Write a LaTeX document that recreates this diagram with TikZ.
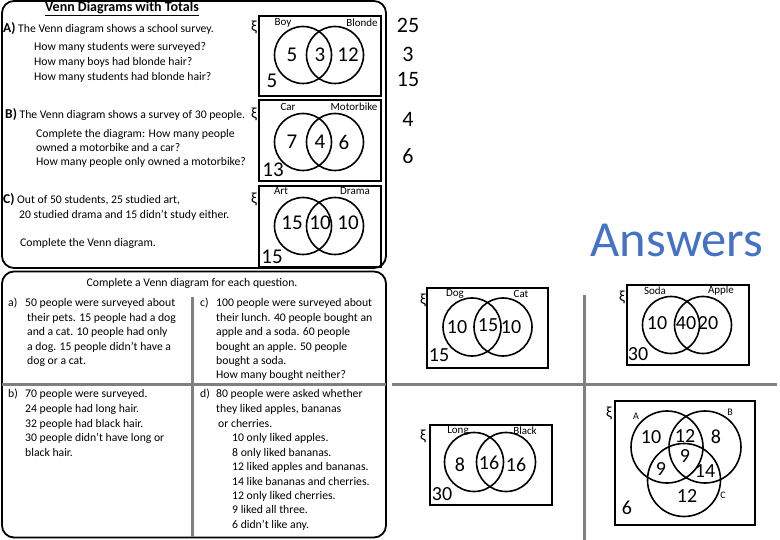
\documentclass[tikz,border=0pt]{standalone}
\usepackage{fontspec}
\setmainfont{Carlito}
\definecolor{ansblue}{RGB}{68,114,196}
\definecolor{sepgray}{RGB}{128,128,128}
\newcommand{\qlab}[1]{{\fontsize{13.5}{14}\selectfont\textbf{#1}}}
\begin{document}
\begin{tikzpicture}[x=1pt,y=-1pt,
  tx/.style={anchor=west,inner sep=0pt,font=\fontsize{11.7}{14}\selectfont,text height=8pt,text depth=2pt},
  frame/.style={draw,line width=1.8pt,rounded corners=12pt,inner sep=0pt},
  vbox/.style={draw,line width=1.8pt,inner sep=0pt},
  vc/.style={draw,circle,line width=1.6pt,inner sep=0pt,minimum size=#1},
  lab/.style={inner sep=0pt,font=\fontsize{11}{12}\selectfont},
  num/.style={inner sep=0pt,font=\fontsize{21}{24}\selectfont},
  anum/.style={inner sep=0pt,font=\fontsize{20}{22}\selectfont},
  rnum/.style={inner sep=0pt,font=\fontsize{22}{24}\selectfont},
  xi/.style={inner sep=0pt,font=\fontsize{15.5}{16}\selectfont},
  sep/.style={draw=sepgray,line width=3pt}]
\useasboundingbox (0,0) rectangle (780,540);

% ---------- top frame ----------
\node[frame,minimum width=384pt,minimum height=267pt] (topframe) at (194,134.5) {};
\node[inner sep=0pt,font=\fontsize{14}{16}\selectfont] (title) at (122,9) {\underline{\textbf{Venn Diagrams with Totals}}};
\node[tx] (qA) at (3,30) {\qlab{A)} The Venn diagram shows a school survey.};
\node[tx] (qA1) at (34,48) {How many students were surveyed?};
\node[tx] (qA2) at (34,63) {How many boys had blonde hair?};
\node[tx] (qA3) at (34,78) {How many students had blonde hair?};
\node[tx] (qB) at (5,116) {\qlab{B)} The Venn diagram shows a survey of 30 people.};
\node[tx] (qB1) at (36,135) {Complete the diagram: How many people};
\node[tx] (qB2) at (36,149) {owned a motorbike and a car?};
\node[tx] (qB3) at (36,163) {How many people only owned a motorbike?};
\node[tx] (qC) at (3,201) {\qlab{C)} Out of 50 students, 25 studied art,};
\node[tx] (qC1) at (19,216) {20 studied drama and 15 didn’t study either.};
\node[tx] (qC2) at (20,244) {Complete the Venn diagram.};

% Venn A
\node[vbox,minimum width=122pt,minimum height=80pt] (boxA) at (320,56) {};
\node[vc=57pt] (boy) at (303,55) {};
\node[vc=57pt] (blonde) at (335,55) {};
\node[xi] (xiA) at (254,27) {ξ};
\node[lab] (lboy) at (283,23) {Boy};
\node[lab] (lblonde) at (362,23) {Blonde};
\node[num] (nA1) at (292,55) {5};
\node[num] (nA2) at (320,55) {3};
\node[num] (nA3) at (348,55) {12};
\node[num] (nA4) at (272,81) {5};

% Venn B
\node[vbox,minimum width=122pt,minimum height=81pt] (boxB) at (320,140.5) {};
\node[vc=57pt] (car) at (303,142) {};
\node[vc=57pt] (moto) at (335,142) {};
\node[xi] (xiB) at (254,114) {ξ};
\node[lab] (lcar) at (288,107) {Car};
\node[lab] (lmoto) at (354,107) {Motorbike};
\node[num] (nB1) at (292,142) {7};
\node[num] (nB2) at (320,142) {4};
\node[num] (nB3) at (344,142) {6};
\node[num] (nB4) at (273,170) {13};

% Venn C
\node[vbox,minimum width=122pt,minimum height=81pt] (boxC) at (320,226.5) {};
\node[vc=57pt] (art) at (303,226) {};
\node[vc=57pt] (drama) at (335,226) {};
\node[xi] (xiC) at (254,199) {ξ};
\node[lab] (lart) at (281,191) {Art};
\node[lab] (ldrama) at (355,191) {Drama};
\node[num] (nC1) at (292,223) {15};
\node[num] (nC2) at (320,223) {10};
\node[num] (nC3) at (348,223) {10};
\node[num] (nC4) at (272,257) {15};

% right answers for top
\node[rnum] (r1) at (408,25) {25};
\node[rnum] (r2) at (408,54) {3};
\node[rnum] (r3) at (408,79) {15};
\node[rnum] (r4) at (408,119) {4};
\node[rnum] (r5) at (408,156) {6};

% ---------- bottom frame ----------
\node[frame,minimum width=384pt,minimum height=266pt] (botframe) at (194,404.5) {};
\coordinate (bh1) at (2,385);
\coordinate (bh2) at (386,385);
\coordinate (bv1) at (192,297);
\coordinate (bv2) at (192,537);
\draw[sep] (bh1) -- (bh2);
\draw[sep] (bv1) -- (bv2);
\node[inner sep=0pt,font=\fontsize{11.7}{14}\selectfont] (head) at (192,283) {Complete a Venn diagram for each question.};

\node[tx] (la) at (8,304) {a)};
\node[tx] (a1) at (25,304) {50 people were surveyed about};
\node[tx] (a2) at (27,319) {their pets. 15 people had a dog};
\node[tx] (a3) at (27,333) {and a cat. 10 people had only};
\node[tx] (a4) at (27,348) {a dog. 15 people didn’t have a};
\node[tx] (a5) at (27,362) {dog or a cat.};

\node[tx] (lc) at (200,304) {c)};
\node[tx] (c1) at (216,304) {100 people were surveyed about};
\node[tx] (c2) at (216,319) {their lunch. 40 people bought an};
\node[tx] (c3) at (216,333) {apple and a soda. 60 people};
\node[tx] (c4) at (216,348) {bought an apple. 50 people};
\node[tx] (c5) at (216,362) {bought a soda.};
\node[tx] (c6) at (216,376) {How many bought neither?};

\node[tx] (lb) at (8,395) {b)};
\node[tx] (b1) at (25,395) {70 people were surveyed.};
\node[tx] (b2) at (25,410) {24 people had long hair.};
\node[tx] (b3) at (25,424) {32 people had black hair.};
\node[tx] (b4) at (25,438) {30 people didn’t have long or};
\node[tx] (b5) at (25,453) {black hair.};

\node[tx] (ld) at (200,395) {d)};
\node[tx] (d1) at (216,395) {80 people were asked whether};
\node[tx] (d2) at (216,410) {they liked apples, bananas};
\node[tx] (d3) at (218,424) {or cherries.};
\node[tx] (d4) at (232,438) {10 only liked apples.};
\node[tx] (d5) at (232,453) {8 only liked bananas.};
\node[tx] (d6) at (232,467) {12 liked apples and bananas.};
\node[tx] (d7) at (232,482) {14 like bananas and cherries.};
\node[tx] (d8) at (232,496) {12 only liked cherries.};
\node[tx] (d9) at (232,510) {9 liked all three.};
\node[tx] (d10) at (232,525) {6 didn’t like any.};

% ---------- answers ----------
\node[inner sep=0pt,text=ansblue,font=\fontsize{50.5}{50}\selectfont] (answers) at (677,240) {Answers};
\coordinate (rv1) at (584,295);
\coordinate (rv2) at (584,540);
\coordinate (rh1) at (392,385);
\coordinate (rh2) at (777,385);
\draw[sep] (rv1) -- (rv2);
\draw[sep] (rh1) -- (rh2);

% a) Dog / Cat
\node[vbox,minimum width=121pt,minimum height=80pt] (boxDa) at (487.5,328) {};
\node[vc=58pt] (dog) at (472,327) {};
\node[vc=58pt] (cat) at (503,327) {};
\node[xi] (xiDa) at (423,300) {ξ};
\node[lab] (ldog) at (455,294) {Dog};
\node[lab] (lcat) at (521,294) {Cat};
\node[anum] (na1) at (457,327) {10};
\node[anum] (na2) at (488,325) {15};
\node[anum] (na3) at (511,327) {10};
\node[anum] (na4) at (439,355) {15};

% c) Soda / Apple
\node[vbox,minimum width=122pt,minimum height=80pt] (boxSo) at (688,325) {};
\node[vc=57pt] (soda) at (671,325) {};
\node[vc=57pt] (apple) at (703,325) {};
\node[xi] (xiSo) at (622,297) {ξ};
\node[lab] (lsoda) at (655,291) {Soda};
\node[lab] (lapple) at (721,291) {Apple};
\node[anum] (nc1) at (657,323) {10};
\node[anum] (nc2) at (686,323) {40};
\node[anum] (nc3) at (708,323) {20};
\node[anum] (nc4) at (638,354) {30};

% b) Long / Black
\node[vbox,minimum width=122pt,minimum height=80pt] (boxLo) at (491,465) {};
\node[vc=59pt] (long) at (474,462) {};
\node[vc=59pt] (black) at (506,462) {};
\node[xi] (xiLo) at (423,436) {ξ};
\node[lab] (llong) at (458,431) {Long};
\node[lab] (lblack) at (525,431) {Black};
\node[anum] (nb1) at (460,465) {8};
\node[anum] (nb2) at (489,463) {16};
\node[anum] (nb3) at (516,465) {16};
\node[anum] (nb4) at (442,494) {30};

% d) three sets
\node[vbox,minimum width=140pt,minimum height=124pt] (boxABC) at (685,463) {};
\node[vc=72pt] (setA) at (667,447) {};
\node[vc=72pt] (setB) at (705,447) {};
\node[vc=73pt] (setC) at (684,480) {};
\node[xi] (xiABC) at (609,413) {ξ};
\node[inner sep=0pt,font=\fontsize{10}{11}\selectfont] (lA) at (636,416) {A};
\node[inner sep=0pt,font=\fontsize{10}{11}\selectfont] (lB) at (730,412) {B};
\node[inner sep=0pt,font=\fontsize{10}{11}\selectfont] (lC) at (723,495) {C};
\node[anum] (nd1) at (651,437) {10};
\node[anum] (nd2) at (685,436) {12};
\node[anum] (nd3) at (716,437) {8};
\node[anum] (nd4) at (685,456) {9};
\node[anum] (nd5) at (661,469) {9};
\node[anum] (nd6) at (705,471) {14};
\node[anum] (nd7) at (687,496) {12};
\node[anum] (nd8) at (627,508) {6};
\end{tikzpicture}
\end{document}
